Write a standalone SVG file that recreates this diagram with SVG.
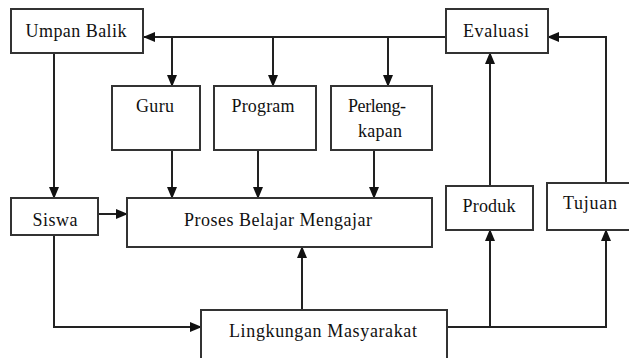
<svg xmlns="http://www.w3.org/2000/svg" width="629" height="358" viewBox="0 0 629 358">
<defs>
<marker id="ah" markerWidth="12" markerHeight="10" refX="11" refY="5" orient="auto" markerUnits="userSpaceOnUse">
<path d="M0,0 L12,5 L0,10 Z" fill="#111"/>
</marker>
<style>
.box{fill:#fff;stroke:#333;stroke-width:2}
.t{font-family:'Liberation Serif','Times New Roman',serif;font-size:18px;fill:#111;text-anchor:middle}
.a{fill:none;stroke:#222;stroke-width:2;marker-end:url(#ah)}
</style>
</defs>
<rect width="629" height="358" fill="#fff"/>
<g id="connectors">
<path class="a" d="M446,37 H144"/>
<path class="a" d="M172,37 V86"/>
<path class="a" d="M273,37 V86"/>
<path class="a" d="M388,37 V86"/>
<path class="a" d="M54,53 V198"/>
<path class="a" d="M172,150 V198"/>
<path class="a" d="M258,150 V198"/>
<path class="a" d="M374,150 V198"/>
<path class="a" d="M98,214 H127"/>
<path class="a" d="M54,235 V327 H201"/>
<path class="a" d="M302,310 V247"/>
<path class="a" d="M447,327 H606 V230"/>
<path class="a" d="M490,327 V230"/>
<path class="a" d="M490,186 V53"/>
<path class="a" d="M606,183 V37 H548"/>
</g>
<g id="umpan-balik"><rect class="box" x="11" y="9" width="132" height="44"/><text class="t" x="76" y="37" textLength="101" lengthAdjust="spacing">Umpan Balik</text></g>
<g id="evaluasi"><rect class="box" x="446" y="9" width="102" height="44"/><text class="t" x="496" y="37" textLength="66" lengthAdjust="spacing">Evaluasi</text></g>
<g id="guru"><rect class="box" x="112" y="86" width="88" height="64"/><text class="t" x="155" y="112" textLength="38" lengthAdjust="spacing">Guru</text></g>
<g id="program"><rect class="box" x="214" y="86" width="102" height="64"/><text class="t" x="263" y="112" textLength="63" lengthAdjust="spacing">Program</text></g>
<g id="perlengkapan"><rect class="box" x="331" y="86" width="101" height="64"/><text class="t" x="377" y="112" textLength="58" lengthAdjust="spacing">Perleng-</text><text class="t" x="380" y="137" textLength="44" lengthAdjust="spacing">kapan</text></g>
<g id="siswa"><rect class="box" x="11" y="198" width="87" height="37"/><text class="t" x="55" y="226" textLength="45" lengthAdjust="spacing">Siswa</text></g>
<g id="proses-belajar-mengajar"><rect class="box" x="127" y="198" width="305" height="49"/><text class="t" x="278" y="226" textLength="188" lengthAdjust="spacing">Proses Belajar Mengajar</text></g>
<g id="produk"><rect class="box" x="446" y="186" width="87" height="44"/><text class="t" x="489" y="212" textLength="53" lengthAdjust="spacing">Produk</text></g>
<g id="tujuan"><rect class="box" x="547" y="183" width="86" height="47"/><text class="t" x="590" y="209" textLength="54" lengthAdjust="spacing">Tujuan</text></g>
<g id="lingkungan-masyarakat"><rect class="box" x="201" y="310" width="246" height="52"/><text class="t" x="323" y="337" textLength="188" lengthAdjust="spacing">Lingkungan Masyarakat</text></g>
</svg>
